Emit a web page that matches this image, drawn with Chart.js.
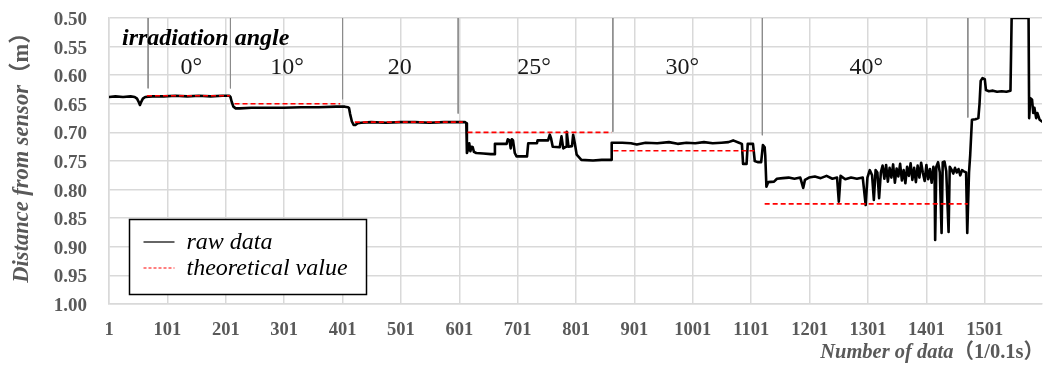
<!DOCTYPE html>
<html>
<head>
<meta charset="utf-8">
<script src="https://cdn.jsdelivr.net/npm/chart.js@4.4.1/dist/chart.umd.min.js"></script>
<style>
  html, body { margin: 0; padding: 0; background: #fff; overflow: hidden; }
  canvas { display: block; }
</style>
</head>
<body>
<canvas id="c" width="1046" height="365"></canvas>
<script>
// ---- data -------------------------------------------------------------
// sample number of each recorded change in the sensor reading
const rawIndex = [
  1, 12, 25, 38, 45, 49, 52, 54, 56, 59, 63, 75, 95, 115, 135, 155, 175, 195, 207,
  209, 211, 214, 218, 225, 245, 270, 300, 330, 360, 390, 405, 410,
  412, 414, 417, 420, 423, 427, 433, 450, 475, 500, 525, 550, 575, 600, 611,
  613, 614, 616, 618, 620, 622, 624, 626, 630, 642, 655, 661, 662, 682, 684, 687, 689, 691, 693, 696,
  699, 717, 719, 734, 735, 753, 756, 758, 761, 773, 776, 779, 784, 785, 788, 794, 796, 799, 802, 810,
  830, 845, 861,
  862, 880, 895, 905, 920, 940, 960, 975, 990, 1005, 1020, 1035, 1050, 1062, 1070, 1080, 1085,
  1087, 1093, 1095, 1104, 1107, 1112, 1118, 1121, 1124, 1125,
  1127, 1130, 1140, 1145, 1155, 1165, 1175, 1185, 1190, 1193, 1200, 1210, 1220, 1230, 1240, 1248,
  1251, 1254, 1262, 1272, 1282, 1292, 1297, 1300, 1304, 1308, 1311, 1314, 1317, 1320, 1323,
  1326, 1329, 1332, 1335, 1338, 1341, 1344, 1347, 1350, 1353, 1356, 1359, 1362, 1365, 1368, 1371,
  1374, 1377, 1380, 1383, 1386, 1389, 1392, 1395, 1398, 1401, 1404, 1407, 1410, 1413,
  1415, 1416, 1418, 1421, 1424, 1427, 1429, 1432, 1435, 1439, 1441, 1444, 1447, 1450, 1453, 1456,
  1459, 1462, 1465, 1469, 1471, 1474, 1476, 1479,
  1485, 1490, 1492, 1494, 1497, 1501, 1503, 1508, 1515, 1522, 1530, 1538, 1545, 1547, 1576,
  1577, 1579, 1582, 1584, 1586, 1589, 1591, 1595, 1599
];
// measured distance (m) at those samples
const rawDistance = [
  0.638, 0.637, 0.638, 0.637, 0.638, 0.641, 0.647, 0.652, 0.647, 0.641, 0.638, 0.637, 0.637, 0.636, 0.637, 0.636, 0.637, 0.636, 0.636,
  0.638, 0.646, 0.655, 0.658, 0.658, 0.657, 0.657, 0.657, 0.656, 0.656, 0.655, 0.655, 0.656,
  0.657, 0.668, 0.681, 0.687, 0.687, 0.684, 0.683, 0.682, 0.683, 0.682, 0.682, 0.683, 0.682, 0.682, 0.682,
  0.684, 0.736, 0.730, 0.719, 0.733, 0.725, 0.726, 0.734, 0.736, 0.737, 0.738, 0.738, 0.720, 0.720, 0.712, 0.714, 0.728, 0.712, 0.714, 0.736,
  0.742, 0.742, 0.719, 0.719, 0.714, 0.714, 0.704, 0.710, 0.725, 0.726, 0.707, 0.728, 0.725, 0.699, 0.725, 0.724, 0.704, 0.720, 0.739, 0.748,
  0.749, 0.748, 0.748,
  0.718, 0.718, 0.719, 0.721, 0.718, 0.719, 0.717, 0.720, 0.718, 0.719, 0.717, 0.719, 0.718, 0.717, 0.714, 0.718, 0.720,
  0.755, 0.755, 0.720, 0.720, 0.750, 0.752, 0.752, 0.722, 0.726, 0.740,
  0.795, 0.787, 0.786, 0.781, 0.780, 0.779, 0.781, 0.779, 0.797, 0.783, 0.779, 0.777, 0.780, 0.776, 0.781, 0.779,
  0.821, 0.776, 0.782, 0.779, 0.781, 0.779, 0.827, 0.779, 0.766, 0.775, 0.818, 0.766, 0.770, 0.815, 0.770,
  0.758, 0.781, 0.757, 0.786, 0.762, 0.779, 0.756, 0.788, 0.763, 0.777, 0.755, 0.784, 0.766, 0.789, 0.760, 0.776,
  0.754, 0.783, 0.762, 0.787, 0.758, 0.779, 0.753, 0.771, 0.785, 0.757, 0.782, 0.764, 0.788, 0.760,
  0.768, 0.888, 0.760, 0.752, 0.770, 0.876, 0.752, 0.751, 0.768, 0.874, 0.760, 0.765, 0.772, 0.762, 0.770, 0.764,
  0.775, 0.766, 0.768, 0.770, 0.876, 0.770, 0.740, 0.678,
  0.677, 0.675, 0.650, 0.610, 0.605, 0.607, 0.626, 0.628, 0.627, 0.629, 0.628, 0.629, 0.627, 0.500, 0.500,
  0.675, 0.640, 0.643, 0.666, 0.657, 0.675, 0.666, 0.678, 0.681
];

// theoretical distance for each irradiation angle
const theoryStart = [66, 216, 422, 615, 865, 1124];
const theoryEnd   = [208, 397, 607, 862, 1108, 1472];
const theoryValue = [0.636, 0.650, 0.682, 0.700, 0.732, 0.825];

// boundaries between the angle settings
const boundaryIndex  = [68, 209, 401, 599, 864, 1120, 1472];
const boundaryBottom = [0.623, 0.623, 0.642, 0.667, 0.699, 0.705, 0.674];

// angle captions and where they sit along the sample axis
const angleTitle = 'irradiation angle';
const angleText  = ['0°', '10°', '20', '25°', '30°', '40°'];
const angleIndex = [142, 306, 499, 729, 983, 1298];

// axes
const xTickValues = [1, 101, 201, 301, 401, 501, 601, 701, 801, 901, 1001, 1101, 1201, 1301, 1401, 1501];
const yTickValues = [0.50, 0.55, 0.60, 0.65, 0.70, 0.75, 0.80, 0.85, 0.90, 0.95, 1.00];
const xTitleMain = 'Number of data', xTitleUnit = '（1/0.1s）';
const yTitleMain = 'Distance from sensor', yTitleUnit = '（m）';
const seriesNames = ['raw data', 'theoretical value'];

// ---- styling -----------------------------------------------------------
const serif = '"Liberation Serif", "Times New Roman", "Noto Sans CJK SC", serif';
const axisGrey = '#595959';
const gridGrey = '#d9d9d9';

const theoryPoints = [];
theoryStart.forEach((s, i) => {
  theoryPoints.push({ x: s, y: theoryValue[i] }, { x: theoryEnd[i], y: theoryValue[i] }, { x: theoryEnd[i] + 1, y: null });
});

const datasets = [
  {
    label: seriesNames[1],
    data: theoryPoints,
    borderColor: '#ff0000',
    borderWidth: 1.6,
    borderDash: [5, 3],
    spanGaps: false,
    legendSample: { color: '#ff0000', width: 1, dash: [3, 2] }
  },
  {
    label: seriesNames[0],
    data: rawIndex.map((v, i) => ({ x: v, y: rawDistance[i] })),
    borderColor: '#000000',
    borderWidth: 2.6,
    borderJoinStyle: 'round',
    borderCapStyle: 'round',
    legendSample: { color: '#000000', width: 1.2, dash: [] }
  }
];
boundaryIndex.forEach((b, i) => {
  datasets.push({
    label: '',
    data: [{ x: b, y: 0.5 }, { x: b, y: boundaryBottom[i] }],
    borderColor: '#8c8c8c',
    borderWidth: 1
  });
});

// nudge the value labels so the digits sit centred on their grid lines
const tickNudge = {
  id: 'tickNudge',
  beforeDraw(chart) {
    const items = chart.scales.y.getLabelItems(chart.chartArea);
    items.forEach(it => {
      if (!it._nudged) { it.textOffset += 2; it._nudged = true; }
    });
  }
};

// captions, axis titles with mixed styles, and the boxed legend
const decor = {
  id: 'decor',
  afterDatasetsDraw(chart) {
    const { ctx, chartArea, scales: { x } } = chart;
    ctx.save();
    ctx.fillStyle = '#000';
    ctx.textBaseline = 'alphabetic';
    ctx.textAlign = 'left';
    ctx.font = `italic bold 24px ${serif}`;
    ctx.fillText(angleTitle, chartArea.left + 13, 45);
    ctx.font = `24px ${serif}`;
    ctx.fillStyle = '#1a1a1a';
    ctx.textAlign = 'center';
    angleText.forEach((t, i) => ctx.fillText(t, x.getPixelForValue(angleIndex[i]), 74));
    ctx.restore();
  },
  afterDraw(chart) {
    const { ctx, chartArea } = chart;
    ctx.save();

    // x-axis title, right aligned under the plot
    const xMainFont = `italic bold 20.5px ${serif}`;
    const xUnitFont = `bold 20.5px ${serif}`;
    ctx.fillStyle = axisGrey;
    ctx.textBaseline = 'alphabetic';
    ctx.textAlign = 'left';
    ctx.font = xUnitFont;
    const xu = ctx.measureText(xTitleUnit).width;
    ctx.font = xMainFont;
    const xm = ctx.measureText(xTitleMain).width;
    const xEnd = chartArea.right + 2;
    ctx.fillText(xTitleMain, xEnd - xu - xm, 358);
    ctx.font = xUnitFont;
    ctx.fillText(xTitleUnit, xEnd - xu, 358);

    // y-axis title, rotated beside the value labels
    const yMainFont = `italic bold 22.5px ${serif}`;
    const yUnitFont = `bold 22.5px ${serif}`;
    ctx.save();
    ctx.translate(22, (chartArea.top + chartArea.bottom) / 2 - 9);
    ctx.rotate(-Math.PI / 2);
    ctx.textBaseline = 'middle';
    ctx.font = yMainFont;
    const ym = ctx.measureText(yTitleMain).width;
    ctx.font = yUnitFont;
    const yu = ctx.measureText(yTitleUnit).width;
    const y0 = -(ym + yu) / 2;
    ctx.font = yMainFont;
    ctx.fillText(yTitleMain, y0, 0);
    ctx.font = yUnitFont;
    ctx.fillText(yTitleUnit, y0 + ym, 0);
    ctx.restore();

    // legend box in the lower left of the plot
    const box = { left: 129.5, top: 219.5, width: 237, height: 75 };
    ctx.fillStyle = '#fff';
    ctx.fillRect(box.left, box.top, box.width, box.height);
    ctx.strokeStyle = '#000';
    ctx.lineWidth = 1.5;
    ctx.strokeRect(box.left, box.top, box.width, box.height);
    const entries = chart.data.datasets.filter(d => d.legendSample);
    const order = seriesNames.map(n => entries.find(d => d.label === n));
    order.forEach((d, i) => {
      const cy = box.top + 22.5 + i * 26;
      ctx.beginPath();
      ctx.strokeStyle = d.legendSample.color;
      ctx.lineWidth = d.legendSample.width;
      ctx.setLineDash(d.legendSample.dash);
      ctx.moveTo(box.left + 14, cy);
      ctx.lineTo(box.left + 45, cy);
      ctx.stroke();
      ctx.setLineDash([]);
      ctx.fillStyle = '#000';
      ctx.font = `italic 24px ${serif}`;
      ctx.textBaseline = 'middle';
      ctx.textAlign = 'left';
      ctx.fillText(d.label, box.left + 57, cy + 1);
    });
    ctx.restore();
  }
};

new Chart(document.getElementById('c'), {
  type: 'line',
  data: { datasets },
  plugins: [tickNudge, decor],
  options: {
    responsive: false,
    devicePixelRatio: 1,
    animation: false,
    events: [],
    layout: { padding: { top: 18, right: 4, left: 0, bottom: 0 } },
    elements: {
      point: { radius: 0, hoverRadius: 0 },
      line: { tension: 0, fill: false }
    },
    plugins: { legend: { display: false }, tooltip: { enabled: false } },
    scales: {
      x: {
        type: 'linear',
        min: 1,
        max: 1599,
        afterBuildTicks(scale) { scale.ticks = xTickValues.map(v => ({ value: v })); },
        afterFit(scale) { scale.height = 61; scale.paddingLeft = 0; scale.paddingRight = 0; },
        grid: { color: gridGrey, lineWidth: 1.5, drawTicks: false },
        border: { color: gridGrey, width: 1.5 },
        ticks: {
          autoSkip: false,
          maxRotation: 0,
          padding: 15,
          color: axisGrey,
          font: { family: serif, size: 18.5, weight: 'bold' },
          callback: v => String(v)
        }
      },
      y: {
        type: 'linear',
        reverse: true,
        min: 0.5,
        max: 1.0,
        afterBuildTicks(scale) { scale.ticks = yTickValues.map(v => ({ value: v })); },
        afterFit(scale) { scale.width = 109; scale.paddingTop = 0; scale.paddingBottom = 0; },
        grid: { color: gridGrey, lineWidth: 1.5, drawTicks: false },
        border: { color: gridGrey, width: 1.5 },
        ticks: {
          padding: 22,
          color: axisGrey,
          font: { family: serif, size: 19, weight: 'bold' },
          callback: v => Number(v).toFixed(2)
        }
      }
    }
  }
});
</script>
</body>
</html>
